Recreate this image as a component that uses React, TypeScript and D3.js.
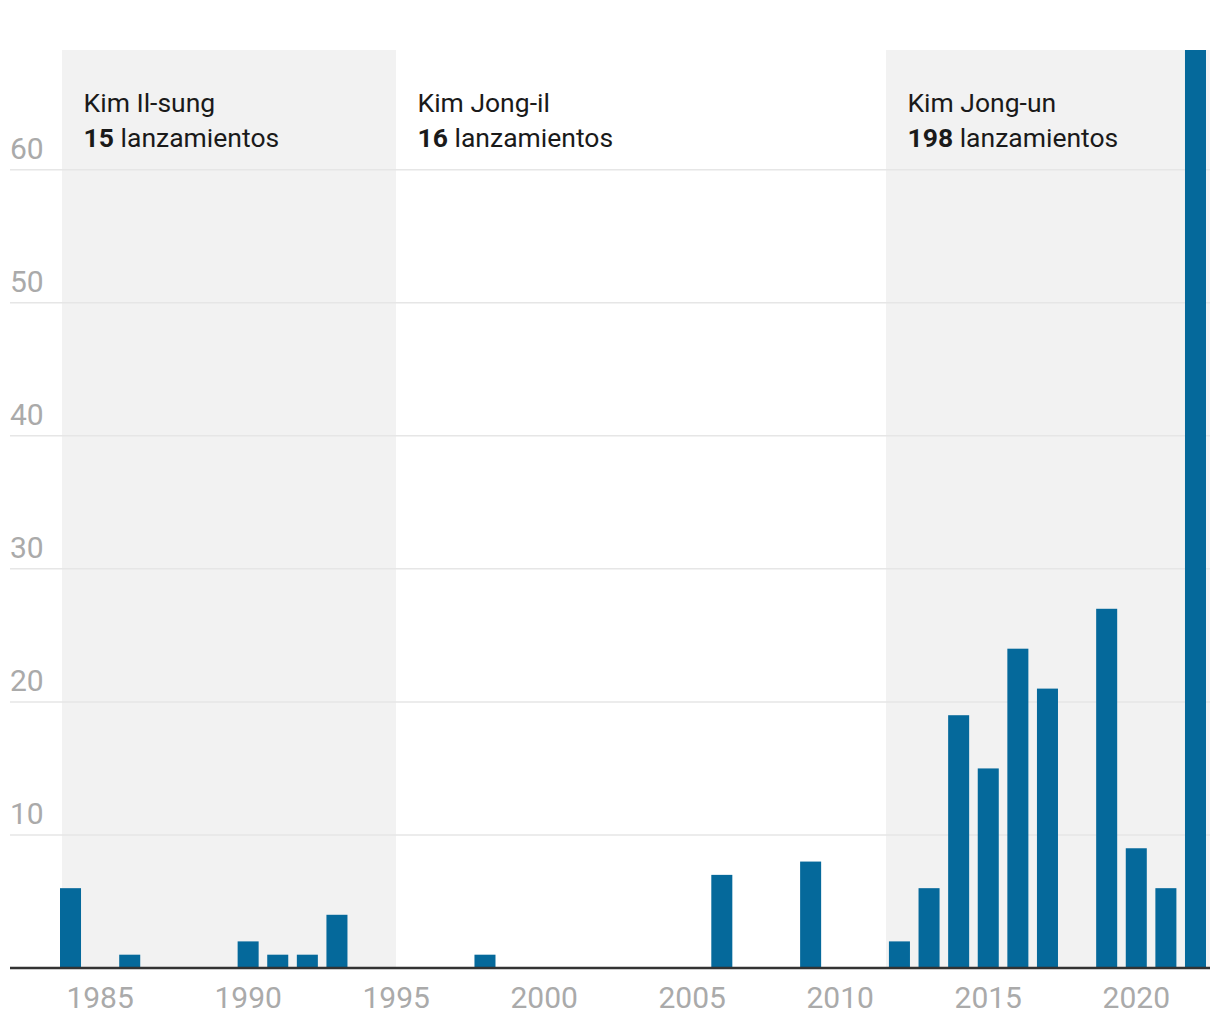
import React from "react";
import * as d3 from "d3";

const years: number[] = d3.range(1984, 2023);
const launchYears = [1984, 1986, 1990, 1991, 1992, 1993, 1998, 2006, 2009, 2012, 2013, 2014, 2015, 2016, 2017, 2019, 2020, 2021, 2022];
const launchCounts = [6, 1, 2, 1, 1, 4, 1, 7, 8, 2, 6, 19, 15, 24, 21, 27, 9, 6, 69];
const yTicks = [10, 20, 30, 40, 50, 60];
const xTicks = [1985, 1990, 1995, 2000, 2005, 2010, 2015, 2020];

const leaders = ["Kim Il-sung", "Kim Jong-il", "Kim Jong-un"];
const leaderTotals = [15, 16, 198];
const leaderStart = [1984.07, 1995.35, 2011.9];
const leaderEnd = [1995.35, 2011.9, 2022.84];
const leaderShaded = [true, false, true];

const W = 1220;
const H = 1020;
const left = 60;
const right = 1206;
const top = 50;
const base = 968;
const axisLeft = 10;
const axisRight = 1210;

export default function App() {
  const x = d3.scaleBand<number>().domain(years).range([left, right]).paddingInner(0.29).paddingOuter(0);
  const step = x.step();
  const xl = d3.scaleLinear().domain([1984, 1985]).range([left, left + step]);
  const y = d3.scaleLinear().domain([0, 69]).range([base, top]);
  const font = "Roboto, 'Liberation Sans', sans-serif";
  return (
    <svg width={W} height={H} style={{ position: "absolute", left: 0, top: 0, background: "#fff" }}>
      {leaders.map((name, i) =>
        leaderShaded[i] ? (
          <rect key={name} x={xl(leaderStart[i])} y={top} width={Math.min(xl(leaderEnd[i]), axisRight) - xl(leaderStart[i])} height={base - top} fill="#f2f2f2" />
        ) : null
      )}
      {yTicks.map((t) => (
        <g key={t}>
          <line x1={axisLeft} x2={axisRight} y1={y(t)} y2={y(t)} stroke="#e6e6e6" strokeWidth={1.5} />
          <text x={axisLeft} y={y(t) - 10.5} fill="#aaaaaa" fontSize={30} fontFamily={font}>{t}</text>
        </g>
      ))}
      {leaders.map((name, i) => (
        <g key={name} fontFamily={font} fill="#1a1a1a" fontSize={26.5}>
          <text x={xl(leaderStart[i]) + 21.5} y={112}>{name}</text>
          <text x={xl(leaderStart[i]) + 21.5} y={147}>
            <tspan fontWeight={700}>{leaderTotals[i]}</tspan> lanzamientos
          </text>
        </g>
      ))}
      {launchYears.map((yr, i) => (
        <rect key={yr} x={x(yr)} y={y(launchCounts[i])} width={x.bandwidth()} height={base - y(launchCounts[i])} fill="#05699b" />
      ))}
      <line x1={axisLeft} x2={axisRight} y1={base} y2={base} stroke="#333" strokeWidth={2.5} />
      {xTicks.map((t) => (
        <text key={t} x={(x(t) as number) + x.bandwidth() / 2} y={1008} textAnchor="middle" fill="#aaaaaa" fontSize={30} fontFamily={font}>{t}</text>
      ))}
    </svg>
  );
}
